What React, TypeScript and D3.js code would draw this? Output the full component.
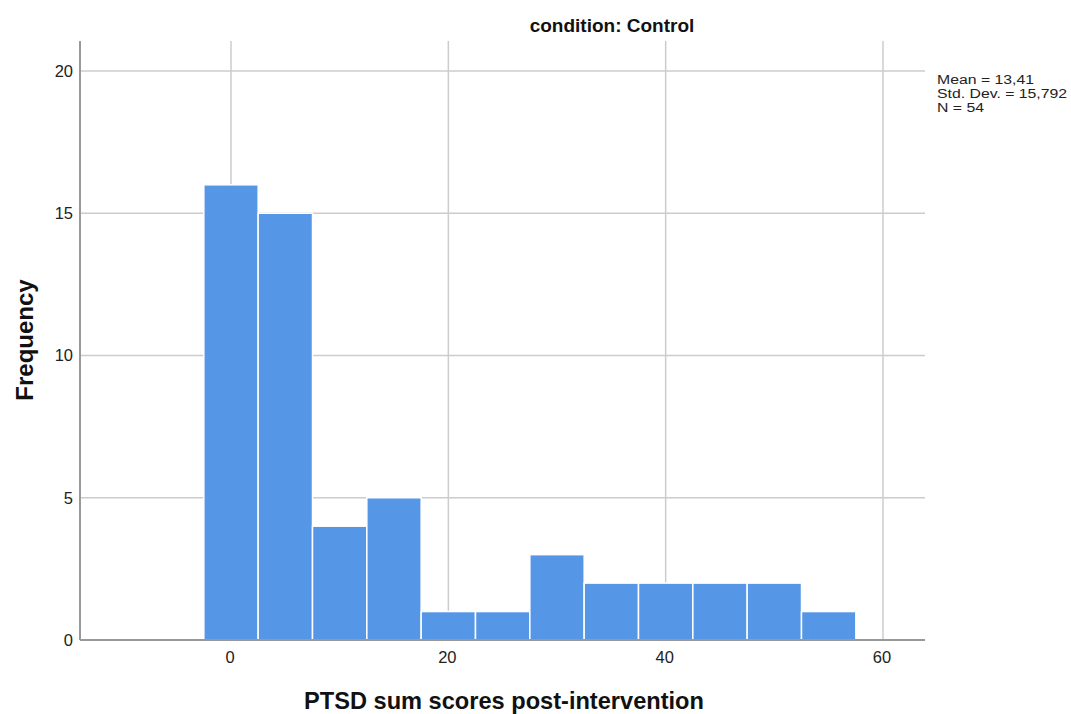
import React from "react";
import * as d3 from "d3";

// Histogram bins (width 5, centered on multiples of 5)
const binStarts = [-2.5, 2.5, 7.5, 12.5, 17.5, 22.5, 27.5, 32.5, 37.5, 42.5, 47.5, 52.5];
const binWidth = 5;
const frequencies = [16, 15, 4, 5, 1, 1, 3, 2, 2, 2, 2, 1];
const xTicks = [0, 20, 40, 60];
const yTicks = [0, 5, 10, 15, 20];
const statsLines = ["Mean = 13,41", "Std. Dev. = 15,792", "N = 54"];

const W = 1071;
const H = 714;
const left = 80;
const right = 925;
const top = 41;
const bottom = 640;

export default function App() {
  const x = d3.scaleLinear().domain([0, 60]).range([231, 883]);
  const y = d3.scaleLinear().domain([0, 20]).range([bottom, 71]);
  const font = "Arial, 'Liberation Sans', sans-serif";

  return (
    <svg width={W} height={H} style={{ position: "absolute", left: 0, top: 0, background: "#fff" }} fontFamily={font}>
      {/* grid */}
      {yTicks.map((t) => (
        <line key={"gy" + t} x1={left} x2={right} y1={y(t)} y2={y(t)} stroke="#cccccc" strokeWidth={1.5} />
      ))}
      {xTicks.map((t) => (
        <line key={"gx" + t} x1={x(t)} x2={x(t)} y1={top} y2={bottom} stroke="#cccccc" strokeWidth={1.5} />
      ))}
      {/* bars */}
      {frequencies.map((f, i) => {
        const x0 = x(binStarts[i]);
        const x1 = x(binStarts[i] + binWidth);
        return (
          <rect
            key={"b" + i}
            x={x0}
            y={y(f)}
            width={x1 - x0}
            height={bottom - y(f)}
            fill="#5596e6"
            stroke="#ffffff"
            strokeWidth={1.5}
          />
        );
      })}
      {/* axes */}
      <line x1={left} x2={left} y1={top} y2={bottom} stroke="#999999" strokeWidth={2} />
      <line x1={left} x2={right} y1={bottom} y2={bottom} stroke="#999999" strokeWidth={2} />
      {yTicks.map((t) => (
        <text key={"ty" + t} x={73} y={y(t)} dy="0.36em" textAnchor="end" fontSize={16.5} fill="#222">
          {t}
        </text>
      ))}
      {xTicks.map((t) => (
        <text key={"tx" + t} x={x(t) - 1} y={663} textAnchor="middle" fontSize={16.5} fill="#222">
          {t}
        </text>
      ))}
      {/* titles */}
      <text x={612} y={31.5} textAnchor="middle" fontSize={19} fontWeight="bold" fill="#111">
        condition: Control
      </text>
      <text x={504} y={709} textAnchor="middle" fontSize={23.6} fontWeight="bold" fill="#111">
        PTSD sum scores post-intervention
      </text>
      <text
        transform={`translate(33, 340) rotate(-90)`}
        textAnchor="middle"
        fontSize={24}
        fontWeight="bold"
        fill="#111"
      >
        Frequency
      </text>
      {/* summary statistics, set slightly wide */}
      <g transform="translate(937, 0) scale(1.17, 1)">
        {statsLines.map((s, i) => (
          <text key={"s" + i} x={0} y={84 + i * 14} fontSize={13.5} fill="#222">
            {s}
          </text>
        ))}
      </g>
    </svg>
  );
}
